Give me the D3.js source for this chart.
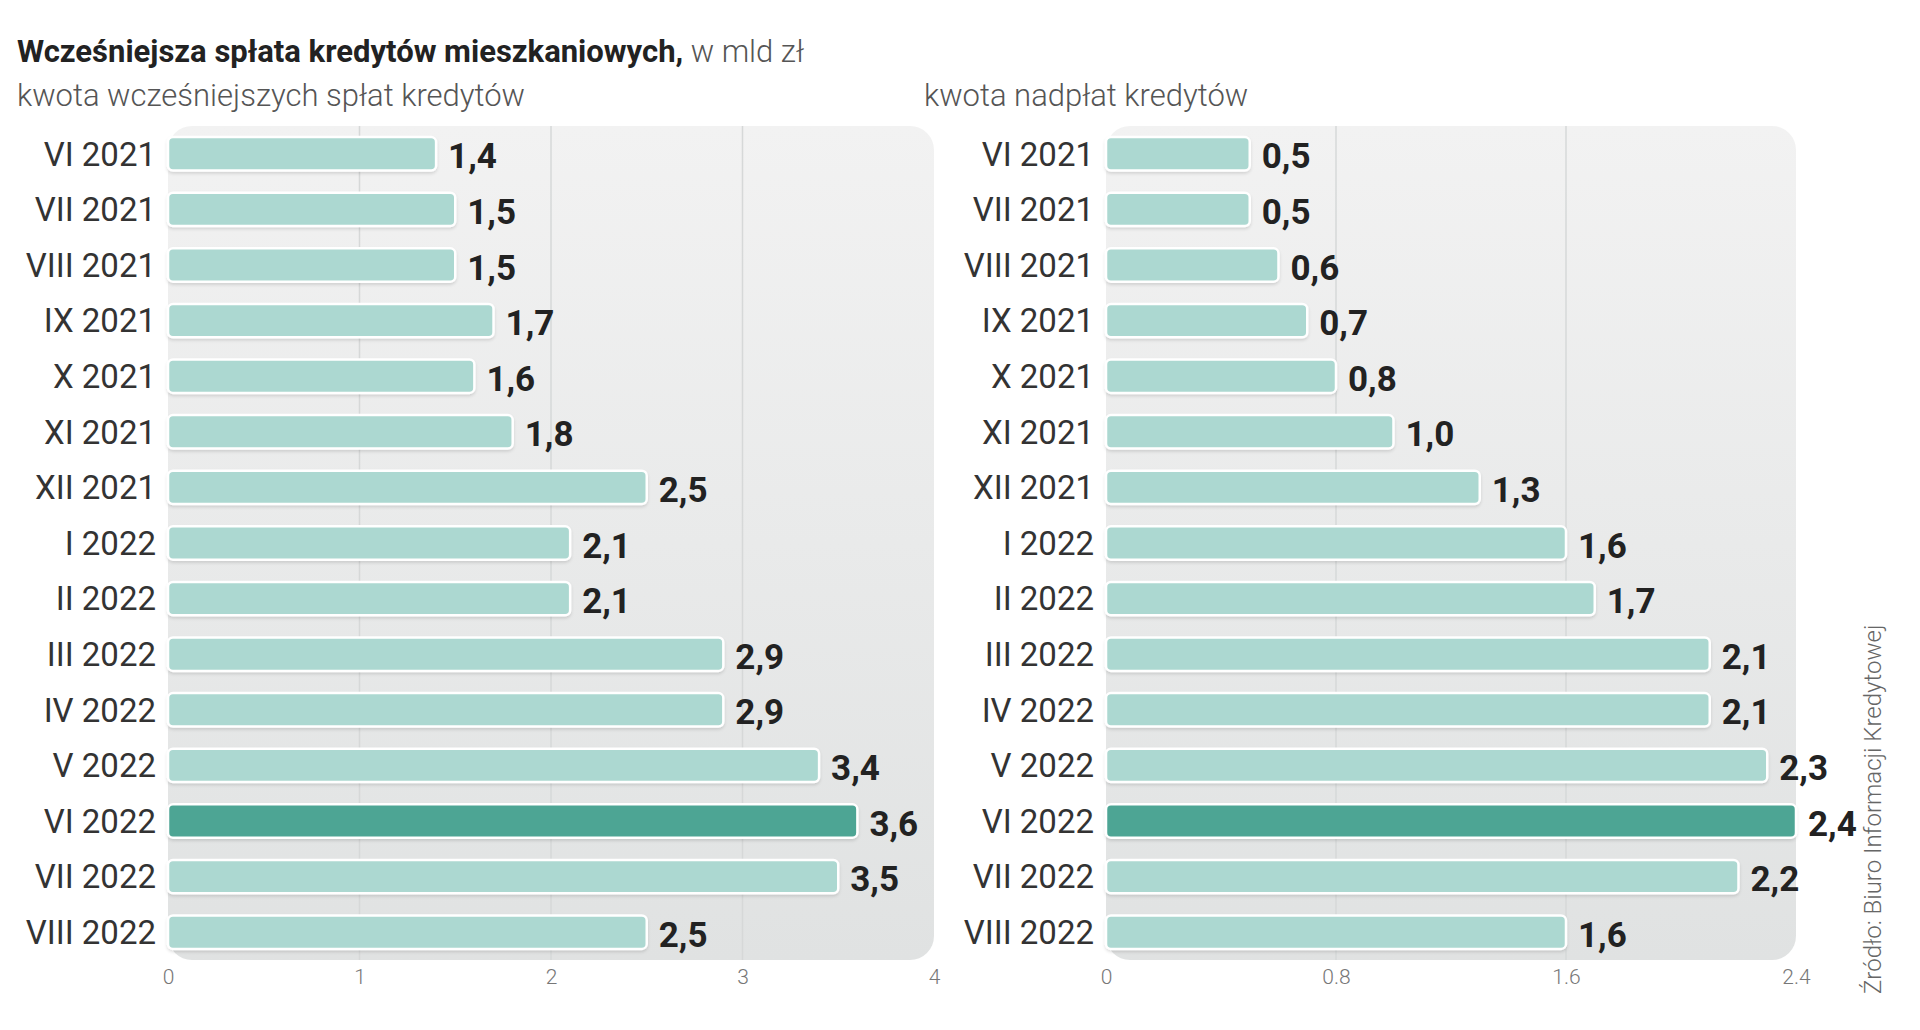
<!DOCTYPE html>
<html>
<head>
<meta charset="utf-8">
<script src="https://cdn.jsdelivr.net/npm/d3@7"></script>
<style>
  body { margin: 0; background: #fff; }
  svg { display: block; font-family: Roboto, "Noto Sans", sans-serif; }
</style>
</head>
<body>
<div id="chart"></div>
<script>
//chart data
var months = ["VI 2021", "VII 2021", "VIII 2021", "IX 2021", "X 2021", "XI 2021", "XII 2021",
    "I 2022", "II 2022", "III 2022", "IV 2022", "V 2022", "VI 2022", "VII 2022", "VIII 2022"];
var earlyRepay = [1.4, 1.5, 1.5, 1.7, 1.6, 1.8, 2.5, 2.1, 2.1, 2.9, 2.9, 3.4, 3.6, 3.5, 2.5];
var overpay = [0.5, 0.5, 0.6, 0.7, 0.8, 1.0, 1.3, 1.6, 1.7, 2.1, 2.1, 2.3, 2.4, 2.2, 1.6];
var leftTicks = [0, 1, 2, 3, 4];
var rightTicks = [0, 0.8, 1.6, 2.4];
var highlight = "VI 2022";

const width = 1920, height = 1030;
const panelTop = 126, panelBottom = 960;

const svg = d3.select("#chart").append("svg")
    .attr("width", width)
    .attr("height", height);

//background gradient + bar shadow
const defs = svg.append("defs");
const grad = defs.append("linearGradient")
    .attr("id", "panelBg")
    .attr("x1", 0).attr("y1", 0).attr("x2", 0).attr("y2", 1);
grad.append("stop").attr("offset", "0%").attr("stop-color", "#f2f2f2");
grad.append("stop").attr("offset", "100%").attr("stop-color", "#e0e2e2");

const shadow = defs.append("filter").attr("id", "barShadow")
    .attr("x", "-5%").attr("y", "-30%").attr("width", "110%").attr("height", "170%");
shadow.append("feDropShadow")
    .attr("dx", 0).attr("dy", 2).attr("stdDeviation", 1.5)
    .attr("flood-color", "#000").attr("flood-opacity", 0.12);

//title
const title = svg.append("text")
    .attr("x", 17).attr("y", 62)
    .attr("font-size", 31)
    .attr("fill", "#222");
title.append("tspan").attr("font-weight", 700)
    .text("Wcześniejsza spłata kredytów mieszkaniowych,");
title.append("tspan").attr("font-weight", 300).attr("fill", "#555")
    .text(" w mld zł");

//source
svg.append("text")
    .attr("transform", "translate(1881, 994) rotate(-90)")
    .attr("font-size", 24)
    .attr("font-weight", 300)
    .attr("fill", "#666")
    .text("Źródło: Biuro Informacji Kredytowej");

const fmt = function(v){ return d3.format(".1f")(v).replace(".", ","); };

//draw one panel
function drawPanel(opts) {
    const g = svg.append("g");

    const x = d3.scaleLinear()
        .domain([0, opts.max])
        .range([opts.x0, opts.x1]);

    const y = d3.scaleBand()
        .domain(months)
        .range([panelTop, panelBottom])
        .paddingInner(0.4)
        .paddingOuter(0.2);

    //subtitle
    g.append("text")
        .attr("x", opts.subX).attr("y", 106)
        .attr("font-size", 31)
        .attr("font-weight", 300)
        .attr("fill", "#555")
        .text(opts.subtitle);

    //panel background
    g.append("rect")
        .attr("x", opts.x0).attr("y", panelTop)
        .attr("width", opts.x1 - opts.x0)
        .attr("height", panelBottom - panelTop)
        .attr("rx", 24)
        .attr("fill", "url(#panelBg)");

    //gridlines
    g.append("g").selectAll("line")
        .data(opts.ticks.slice(1, -1))
        .enter().append("line")
        .attr("x1", function(d){ return x(d); })
        .attr("x2", function(d){ return x(d); })
        .attr("y1", panelTop)
        .attr("y2", panelBottom)
        .attr("stroke", "#d6d8d8")
        .attr("stroke-width", 1.5);

    //tick labels
    const axis = g.append("g")
        .attr("transform", "translate(0," + (panelBottom + 6) + ")")
        .call(d3.axisBottom(x).tickValues(opts.ticks).tickSize(0).tickFormat(d3.format("")));
    axis.select(".domain").remove();
    axis.selectAll("text")
        .attr("font-family", "Roboto, sans-serif")
        .attr("font-size", 21)
        .attr("font-weight", 300)
        .attr("fill", "#777");

    //category labels
    const yAxis = g.append("g")
        .attr("transform", "translate(" + (opts.x0 - 12) + ",0)")
        .call(d3.axisLeft(y).tickSize(0).tickPadding(0));
    yAxis.select(".domain").remove();
    yAxis.selectAll("text")
        .attr("font-family", "Roboto, sans-serif")
        .attr("font-size", 33)
        .attr("fill", "#333")
        .attr("dy", "0.36em");

    //bars
    g.append("g").selectAll("rect")
        .data(opts.values)
        .enter().append("rect")
        .attr("x", x(0))
        .attr("y", function(d, i){ return y(months[i]); })
        .attr("width", function(d){ return x(d) - x(0); })
        .attr("height", y.bandwidth())
        .attr("rx", 5)
        .attr("fill", function(d, i){ return months[i] === highlight ? "#4ea594" : "#acd8d1"; })
        .attr("stroke", "#fff")
        .attr("stroke-width", 2.5)
        .attr("filter", "url(#barShadow)");

    //value labels
    g.append("g").selectAll("text")
        .data(opts.values)
        .enter().append("text")
        .attr("x", function(d){ return x(d) + 12; })
        .attr("y", function(d, i){ return y(months[i]) + y.bandwidth() / 2 + 2; })
        .attr("dy", "0.36em")
        .attr("font-size", 35)
        .attr("font-weight", 700)
        .attr("fill", "#222")
        .text(function(d){ return fmt(d); });
}

drawPanel({
    values: earlyRepay, max: 4, ticks: leftTicks,
    x0: 168, x1: 934, subX: 17,
    subtitle: "kwota wcześniejszych spłat kredytów"
});

drawPanel({
    values: overpay, max: 2.4, ticks: rightTicks,
    x0: 1106, x1: 1796, subX: 924,
    subtitle: "kwota nadpłat kredytów"
});
</script>
</body>
</html>
